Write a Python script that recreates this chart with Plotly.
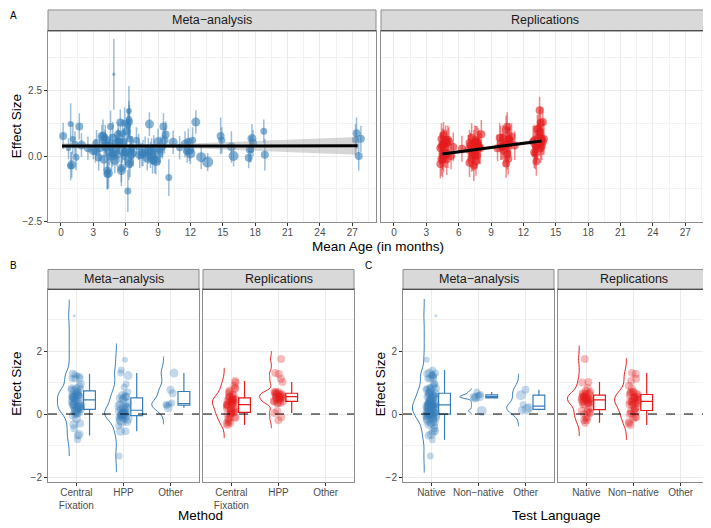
import numpy as np
import plotly.graph_objects as go

# page is rendered with the browser's default 8px body margin -> compensate
OFF = 8
PW, PH = 711, 528
FW, FH = PW - OFF, PH - OFF
BLUE = "#377EB8"
RED = "#E41A1C"
FONT = "Liberation Sans"
BORDER = "#8C8C8C"
GRID = "#EBEBEB"
GRID_MINOR = "#F2F2F2"

# ---------------- data: meta-analysis ----------------
meta_age = [0.2, 0.9, 1.0, 0.9, 1.1, 1.4, 1.7, 1.3, 0.7, 1.9,
            3.0, 3.3, 3.8, 3.9, 4.0, 4.1, 4.2, 4.3, 4.4, 4.5,
            4.6, 4.7, 4.8, 4.9, 5.0, 5.1, 5.2, 5.3, 5.5, 5.6,
            5.7, 5.8, 5.9, 6.0, 6.1, 6.2, 6.3, 6.3, 6.4, 6.4,
            6.5, 6.5, 6.2, 6.6, 4.2, 3.6, 5.4, 6.7, 7.2, 7.5,
            7.8, 8.0, 8.2, 8.3, 8.5, 8.6, 8.8, 9.0, 9.2, 9.5,
            9.7, 10.0, 10.4, 9.4, 7.0, 8.1, 11.5, 11.9, 12.0, 11.8,
            12.5, 13.0, 13.6, 12.2, 14.8, 14.9, 15.8, 16.0, 17.4, 17.5,
            17.7, 17.8, 18.8, 18.9, 17.6, 27.4, 27.6, 27.3, 27.8, 11.0,
            4.3, 5.6, 6.3, 8.7, 3.5, 7.3, 9.1, 5.9, 11.7, 2.5,
            4.6, 4.8, 7.6, 6.0, 8.4, 3.2, 5.2, 5.3, 9.6, 4.1,
            5.7, 6.35]
meta_d = [0.77, 1.22, -0.33, -0.38, 0.65, -0.04, 1.13, 0.45, 0.28, 0.42,
          0.22, 0.5, 0.75, 0.8, -0.12, 0.6, 0.35, -0.55, -0.65, 0.15,
          1.13, 0.0, 0.7, 3.12, -0.15, 0.3, 0.05, 0.8, 1.28, -0.55,
          0.2, 0.55, 1.25, 0.0, 0.95, -1.33, 1.72, 1.4, 0.65, -0.25,
          0.25, 0.05, 1.2, 0.3, 0.45, 0.3, 0.55, 0.1, 0.35, 0.05,
          0.25, -0.05, 1.22, 0.05, -0.12, 0.3, -0.2, 0.55, 0.25, 1.13,
          0.82, -0.82, 0.53, 0.35, 0.6, 0.2, 0.45, 0.25, 0.1, 0.55,
          1.3, -0.04, -0.23, 0.6, 0.77, 0.6, 0.35, 0.0, -0.06, 0.25,
          0.67, 0.5, 0.95, 0.05, 0.27, 0.87, 0.0, 0.62, 0.66, 0.32,
          -0.68, -0.45, -0.3, -0.15, -0.05, 0.05, 0.1, 0.15, 0.2, 0.3,
          0.38, 0.1, 0.12, 0.15, 0.18, 0.2, 0.5, 0.55, 0.6, 0.7,
          0.85, 1.3]
meta_ci = [0.5, 0.8, 0.5, 0.55, 0.6, 0.5, 0.5, 0.5, 0.4, 0.45,
           0.35, 0.5, 0.45, 0.6, 0.45, 0.4, 0.4, 0.7, 0.6, 0.5,
           0.6, 0.55, 0.6, 1.35, 0.5, 0.5, 0.45, 0.5, 0.5, 0.6,
           0.45, 0.5, 0.6, 0.5, 0.5, 0.8, 0.95, 0.7, 0.55, 0.55,
           0.5, 0.5, 0.6, 0.45, 0.4, 0.5, 0.45, 0.5, 0.5, 0.45,
           0.5, 0.5, 0.45, 0.5, 0.55, 0.5, 0.5, 0.5, 0.5, 0.5,
           0.5, 0.7, 0.45, 0.45, 0.5, 0.5, 0.5, 0.45, 0.4, 0.5,
           0.45, 0.45, 0.35, 0.5, 0.7, 0.5, 0.6, 0.4, 0.4, 0.5,
           0.55, 0.5, 0.45, 0.6, 0.5, 0.6, 0.55, 0.6, 0.5, 0.45,
           0.6, 0.55, 0.6, 0.5, 0.5, 0.5, 0.45, 0.5, 0.45, 0.45,
           0.45, 0.5, 0.5, 0.45, 0.5, 0.45, 0.5, 0.5, 0.5, 0.5,
           0.55, 0.65]
meta_size = [8, 6, 9, 7, 6, 7, 8, 7, 5, 9,
             10, 8, 9, 7, 9, 10, 10, 8, 9, 10,
             7, 9, 8, 3, 10, 9, 8, 9, 8, 9,
             9, 8, 7, 9, 8, 7, 6, 7, 7, 8,
             8, 9, 7, 7, 9, 8, 8, 7, 7, 8,
             9, 10, 9, 10, 10, 9, 10, 9, 8, 8,
             8, 7, 9, 7, 7, 9, 9, 10, 10, 8,
             9, 10, 11, 7, 8, 7, 9, 10, 8, 8,
             9, 8, 7, 8, 7, 8, 8, 7, 8, 7,
             8, 8, 8, 9, 8, 9, 9, 8, 9, 8,
             9, 8, 8, 9, 9, 9, 8, 8, 8, 7,
             7, 7]
CF, HP, OT = "Central Fixation", "HPP", "Other"
meta_method = [CF, CF, CF, HP, HP, HP, CF, CF, HP, CF,
               CF, HP, CF, CF, HP, CF, CF, HP, CF, CF,
               CF, HP, CF, CF, HP, CF, HP, CF, CF, HP,
               CF, HP, CF, HP, CF, HP, HP, HP, CF, HP,
               CF, HP, CF, OT, CF, HP, CF, CF, CF, HP,
               CF, HP, HP, CF, HP, CF, HP, CF, HP, CF,
               CF, CF, CF, OT, CF, OT, HP, HP, CF, CF,
               OT, HP, HP, CF, OT, CF, HP, HP, HP, CF,
               CF, CF, HP, HP, OT, CF, CF, CF, OT, OT,
               CF, CF, CF, CF, CF, CF, CF, CF, CF, CF,
               CF, HP, HP, HP, HP, HP, HP, HP, HP, HP,
               HP, HP]
NA, NN, OL = "Native", "Non-native", "Other"
meta_lang = [NA, NA, NA, NA, NA, NA, NA, NA, NA, NA,
             NA, NA, NA, NA, NA, OL, NA, NA, NA, OL,
             NA, NA, NA, NA, NA, NA, NA, NA, NA, NA,
             NA, NA, NA, NA, NA, NA, NA, NA, NA, NA,
             NA, NA, NA, OL, NA, NA, NN, NA, NA, NA,
             NA, NA, NA, NA, NA, NA, NA, NN, NA, NA,
             NA, NA, NN, NA, NA, OL, NA, NA, NN, NA,
             NA, NA, NA, NA, OL, NN, NA, NA, NA, NA,
             NA, NN, NA, NA, NA, NA, NA, NN, NA, NA,
             NA, NA, NA, NA, NA, NA, NA, NA, NA, NA,
             NA, NA, OL, NA, NA, NA, NA, NA, NA, NN,
             NA, NA]

# ---------------- data: replications (four age clusters) ----------------
rep_age = [4.3, 4.5, 4.7, 4.4, 5.0, 4.6, 4.8, 5.1, 4.9, 4.4, 4.5, 4.7, 5.3, 4.3, 5.5, 4.6, 4.9, 4.8, 4.4, 4.6, 5.0, 4.5,
           7.4, 7.6, 7.2, 7.8, 7.5, 7.0, 7.3, 7.7, 6.9, 8.0, 7.1, 8.1, 7.5, 6.3, 7.6, 7.3, 7.9, 7.4, 7.0, 7.7, 7.2, 7.8,
           10.4, 10.2, 10.6, 9.8, 10.5, 9.6, 10.3, 10.7, 10.9, 10.4, 10.6, 10.0, 11.2, 10.5, 9.9, 10.8, 10.1, 10.7, 10.5, 10.1,
           13.2, 13.5, 13.0, 13.6, 13.3, 13.8, 13.4, 13.1, 13.7, 13.5, 12.9, 13.6, 13.9, 13.4, 13.0, 13.7, 13.3, 13.6, 13.8, 13.5, 13.2, 13.1]
rep_d = [-0.3, 0.45, 0.5, -0.1, 0.1, 0.0, 0.05, 0.55, -0.12, 0.38, -0.15, 0.12, 0.0, 0.3, 0.35, 0.42, 0.5, 0.62, 0.65, 0.8, 0.62, 0.1,
         -0.35, 0.6, -0.1, 0.46, 0.52, -0.25, 0.18, 0.02, 0.25, 0.3, 0.4, 0.83, 0.05, 0.28, -0.2, 0.03, 0.35, 0.45, 0.5, 0.55, 0.7, 0.35,
         -0.28, 0.2, 0.62, 0.7, 0.08, 0.3, 0.42, 0.48, 0.75, 1.0, -0.1, 0.35, 0.4, 0.45, 0.5, 0.55, 0.7, 0.65, 1.12, 0.38,
         -0.2, 0.9, 0.15, 0.3, 0.45, 0.55, 1.05, 0.1, 0.4, 0.5, 0.55, 0.6, 0.65, 0.7, 0.6, 0.66, 1.02, 1.27, 1.3, 1.75, 0.35, 0.42]
rep_ci = [0.55, 0.6, 0.5, 0.65, 0.55, 0.6, 0.5, 0.55, 0.6, 0.5, 0.65, 0.55, 0.5, 0.6, 0.55, 0.6, 0.5, 0.55, 0.6, 0.5, 0.55, 0.6,
          0.6, 0.55, 0.5, 0.6, 0.65, 0.55, 0.6, 0.5, 0.55, 0.6, 0.5, 0.55, 0.6, 0.5, 0.55, 0.6, 0.65, 0.55, 0.5, 0.6, 0.55, 0.6,
          0.55, 0.6, 0.5, 0.55, 0.6, 0.5, 0.55, 0.6, 0.5, 0.55, 0.6, 0.5, 0.55, 0.6, 0.65, 0.55, 0.5, 0.6, 0.55, 0.5,
          0.55, 0.5, 0.6, 0.55, 0.6, 0.5, 0.55, 0.6, 0.55, 0.5, 0.6, 0.55, 0.6, 0.55, 0.6, 0.5, 0.55, 0.6, 0.55, 0.5, 0.6, 0.55]
rep_method = ([CF] * 15 + [HP, HP, HP, CF, CF, HP, CF]
              + [CF] * 14 + [HP] * 7 + [CF]
              + [CF] * 10 + [HP] * 9 + [CF]
              + [CF] * 7 + [HP] * 14 + [CF])
rep_lang = [NN, NA, NN, NA, NN, NA, NA, NN, NA, NA, NN, NA, NN, NA, NN, NA, NA, NA, NA, NN, NN, NN,
            NN, NA, NN, NN, NA, NN, NN, NN, NN, NN, NN, NA, NN, NN, NA, NA, NN, NA, NN, NA, NN, NA,
            NA, NA, NN, NN, NA, NN, NA, NA, NA, NA, NN, NA, NN, NN, NA, NN, NA, NN, NN, NN,
            NA, NN, NN, NA, NA, NA, NN, NA, NA, NN, NA, NA, NA, NN, NN, NA, NA, NN, NN, NA, NA, NN]

# ---------------- data: fitted regression lines ----------------
fit_meta_age = [0.1, 4, 8, 12, 16, 20, 24, 27.5]
fit_meta_mid = [0.385, 0.386, 0.387, 0.388, 0.389, 0.39, 0.391, 0.392]
fit_meta_lo = [0.28, 0.31, 0.32, 0.30, 0.24, 0.18, 0.11, 0.05]
fit_meta_hi = [0.49, 0.46, 0.455, 0.48, 0.54, 0.60, 0.67, 0.73]
fit_rep_age = [4.5, 9.0, 13.7]
fit_rep_mid = [0.08, 0.325, 0.58]
fit_rep_lo = [0.0, 0.28, 0.5]
fit_rep_hi = [0.16, 0.37, 0.66]

method_cats = [CF, HP, OT]
method_labels = ["Central<br>Fixation", "HPP", "Other"]
lang_cats = [NA, NN, OL]
lang_labels = ["Native", "Non\u2212native", "Other"]
facet_labels = ["Meta\u2212analysis", "Replications"]


def rgba(hexc, a):
    h = hexc.lstrip("#")
    return "rgba(%d,%d,%d,%.2f)" % (int(h[0:2], 16), int(h[2:4], 16), int(h[4:6], 16), a)


def fx(p):
    return (p - OFF) / FW


def fy(p):
    return 1 - (p - OFF) / FH


def dom_x(l, r):
    return [fx(l), fx(r)]


def dom_y(t, b):
    return [fy(b), fy(t)]


fig = go.Figure()

# ---------------- Panel A ----------------
for (ages, ds, cis, sizes, col, xa, ya) in [
        (meta_age, meta_d, meta_ci, meta_size, BLUE, "x", "y"),
        (rep_age, rep_d, rep_ci, [8] * len(rep_age), RED, "x2", "y2")]:
    fig.add_trace(go.Scatter(
        x=ages, y=ds, mode="markers", xaxis=xa, yaxis=ya,
        marker=dict(size=sizes, color=col, opacity=0.6, line=dict(width=0)),
        error_y=dict(type="data", array=cis, color=rgba(col, 0.5), thickness=1.5, width=0),
        hoverinfo="skip", showlegend=False))

for (fa, fm, flo, fhi, xa, ya) in [
        (fit_meta_age, fit_meta_mid, fit_meta_lo, fit_meta_hi, "x", "y"),
        (fit_rep_age, fit_rep_mid, fit_rep_lo, fit_rep_hi, "x2", "y2")]:
    fig.add_trace(go.Scatter(
        x=list(fa) + list(fa)[::-1], y=list(fhi) + list(flo)[::-1],
        fill="toself", fillcolor="rgba(153,153,153,0.4)", line=dict(width=0),
        mode="lines", xaxis=xa, yaxis=ya, hoverinfo="skip", showlegend=False))
    fig.add_trace(go.Scatter(
        x=fa, y=fm, mode="lines", line=dict(color="black", width=3),
        xaxis=xa, yaxis=ya, hoverinfo="skip", showlegend=False))


# ---------------- Panels B & C ----------------
def silverman(v):
    v = np.asarray(v, float)
    sd = v.std(ddof=1) if len(v) > 1 else 0.1
    iqr = np.subtract(*np.percentile(v, [75, 25]))
    s = min(sd, iqr / 1.34) if iqr > 0 else sd
    return max(0.9 * s * len(v) ** -0.2, 0.02)


def jitter(i):
    return (((i * 0.6180339887) % 1.0) - 0.5) * 0.2


def raincloud(ds, sizes, groups, cats, col, xa, ya):
    for ci_, cat in enumerate(cats):
        pos = ci_ + 1
        idx = [i for i, g in enumerate(groups) if g == cat]
        if not idx:
            continue
        vals = [ds[i] for i in idx]
        bw = silverman(vals)
        fig.add_trace(go.Violin(
            x0=pos - 0.15, y=vals, side="negative", width=0.5, scalemode="width",
            bandwidth=bw, spanmode="manual", span=[min(vals) - 3 * bw, max(vals) + 3 * bw],
            line=dict(color=col, width=1), fillcolor="rgba(0,0,0,0)", points=False,
            box=dict(visible=False), meanline=dict(visible=False),
            xaxis=xa, yaxis=ya, hoverinfo="skip", showlegend=False))
        fig.add_trace(go.Scatter(
            x=[pos + jitter(k) for k in range(len(idx))], y=vals, mode="markers",
            marker=dict(size=[sizes[i] for i in idx], color=col, opacity=0.3, line=dict(width=0)),
            xaxis=xa, yaxis=ya, hoverinfo="skip", showlegend=False))
        fig.add_trace(go.Box(
            x0=pos + 0.28, y=vals, width=0.25, boxpoints="outliers",
            marker=dict(opacity=0, size=0, color="rgba(0,0,0,0)"),
            line=dict(color=col, width=1.2), fillcolor="white", whiskerwidth=0,
            xaxis=xa, yaxis=ya, hoverinfo="skip", showlegend=False))


raincloud(meta_d, meta_size, meta_method, method_cats, BLUE, "x3", "y3")
raincloud(rep_d, [8] * len(rep_d), rep_method, method_cats, RED, "x4", "y4")
raincloud(meta_d, meta_size, meta_lang, lang_cats, BLUE, "x5", "y5")
raincloud(rep_d, [8] * len(rep_d), rep_lang, lang_cats, RED, "x6", "y6")

# ---------------- axes ----------------
tickfont = dict(family=FONT, size=10, color="#4D4D4D")
base = dict(showline=True, mirror=True, linecolor=BORDER, linewidth=1, zeroline=False,
            showgrid=True, gridcolor=GRID, gridwidth=1, tickfont=tickfont,
            ticks="outside", ticklen=3, tickcolor="#333333", tickwidth=1, type="linear")

A_top, A_bot = 31, 224.5
BC_top, BC_bot = 292, 487
panels = {
    "A": [(48, 376), (381, 709)],
    "B": [(48, 199), (203, 354)],
    "C": [(403, 554), (558, 709)],
}
layout_axes = {}
for k, (l, r) in enumerate(panels["A"]):
    xn = "xaxis" if k == 0 else "xaxis2"
    yn = "yaxis" if k == 0 else "yaxis2"
    layout_axes[xn] = dict(base, domain=dom_x(l, r), range=[-1.2, 29.2], tick0=0, dtick=3,
                           anchor="y" if k == 0 else "y2", ticklabelstandoff=-2,
                           minor=dict(dtick=1.5, tick0=0, showgrid=True, gridcolor=GRID_MINOR, ticks=""))
    ydict = dict(base, domain=dom_y(A_top, A_bot), range=[-2.53, 4.78],
                 tickvals=[-2.5, 0, 2.5], tickformat=".1f",
                 anchor="x" if k == 0 else "x2",
                 minor=dict(dtick=1.25, tick0=0, showgrid=True, gridcolor=GRID_MINOR, ticks=""))
    if k == 1:
        ydict.update(showticklabels=False, ticks="", matches="y")
    layout_axes[yn] = ydict

ax_i = 3
for key, labels in [("B", method_labels), ("C", lang_labels)]:
    for k, (l, r) in enumerate(panels[key]):
        xn, yn = "xaxis%d" % ax_i, "yaxis%d" % ax_i
        layout_axes[xn] = dict(base, domain=dom_x(l, r), range=[0.4, 3.6],
                               tickvals=[1, 2, 3], ticktext=labels, anchor="y%d" % ax_i,
                               ticklabelstandoff=-2)
        ydict = dict(base, domain=dom_y(BC_top, BC_bot), range=[-2.17, 3.96],
                     tickvals=[-2, 0, 2], anchor="x%d" % ax_i,
                     minor=dict(dtick=1, tick0=0, showgrid=True, gridcolor=GRID_MINOR, ticks=""))
        if k == 1:
            ydict.update(showticklabels=False, ticks="")
        layout_axes[yn] = ydict
        ax_i += 1

# ---------------- strips, reference lines, annotations ----------------
shapes = []
annotations = []


def strip(l, r, t, b, text):
    shapes.append(dict(type="rect", xref="paper", yref="paper",
                       x0=fx(l), x1=fx(r), y0=fy(b), y1=fy(t),
                       fillcolor="#D9D9D9", line=dict(color=BORDER, width=1), layer="above"))
    shapes.append(dict(type="line", xref="paper", yref="paper",
                       x0=fx(l), x1=fx(r), y0=fy(b), y1=fy(b),
                       line=dict(color="#333333", width=1), layer="above"))
    annotations.append(dict(text=text, x=fx((l + r) / 2), y=fy((t + b) / 2),
                            xref="paper", yref="paper", showarrow=False,
                            font=dict(family=FONT, size=12.5, color="#1A1A1A"),
                            xanchor="center", yanchor="middle"))


for k, (l, r) in enumerate(panels["A"]):
    strip(l, r, 10, A_top, facet_labels[k])
for key in ["B", "C"]:
    for k, (l, r) in enumerate(panels[key]):
        strip(l, r, 272, BC_top, facet_labels[k])

for i in range(3, 7):
    shapes.append(dict(type="line", xref="x%d domain" % i, yref="y%d" % i,
                       x0=0, x1=1, y0=0, y1=0,
                       line=dict(color="black", width=1, dash="dash"), layer="above"))


def text(t, x, y, size, angle=0, color="black", xanchor="center", yanchor="middle"):
    annotations.append(dict(text=t, x=fx(x), y=fy(y), xref="paper", yref="paper",
                            showarrow=False, textangle=angle,
                            font=dict(family=FONT, size=size, color=color),
                            xanchor=xanchor, yanchor=yanchor))


text("A", OFF, OFF, 10, xanchor="left", yanchor="top")
text("B", OFF, 268, 10, xanchor="left")
text("C", 368, 268, 10)
text("Effect Size", 16.5, 128, 13.5, angle=-90)
text("Effect Size", 16.5, 388, 13.5, angle=-90)
text("Effect Size", 380, 388, 13.5, angle=-90)
text("Mean Age (in months)", 378, 249, 13.5)
text("Method", 201, 520, 13.5)
text("Test Language", 556, 520, 13.5)

fig.update_layout(
    width=FW, height=FH, margin=dict(l=0, r=0, t=0, b=0),
    paper_bgcolor="white", plot_bgcolor="white",
    showlegend=False, violinmode="overlay", boxmode="overlay",
    shapes=shapes, annotations=annotations,
    font=dict(family=FONT),
    **layout_axes)

fig.write_html("out.html")
